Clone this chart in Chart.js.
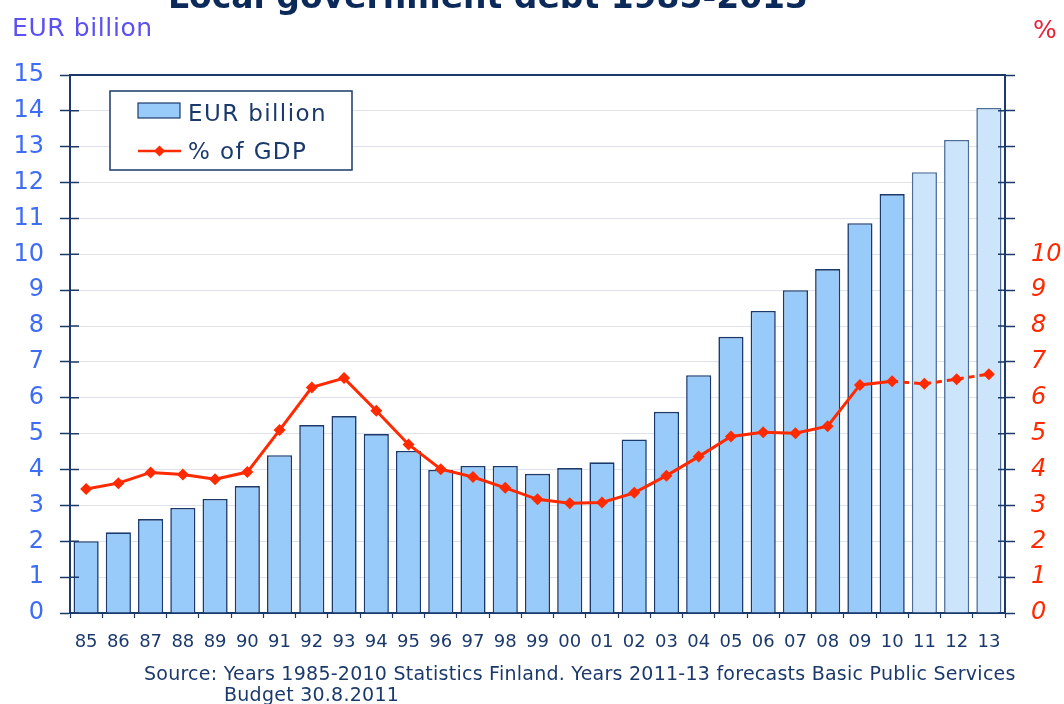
<!DOCTYPE html>
<html>
<head>
<meta charset="utf-8">
<script src="https://cdn.jsdelivr.net/npm/chart.js@4.4.0/dist/chart.umd.min.js"></script>
<style>
  html, body { margin: 0; padding: 0; background: #fff; }
  #wrap { width: 1064px; height: 704px; }
</style>
</head>
<body>
<div id="wrap"><canvas id="debtChart" width="1064" height="704"></canvas></div>
<script>
// ── Data ─────────────────────────────────────────────
const years   = ["85","86","87","88","89","90","91","92","93","94","95","96","97","98","99",
                 "00","01","02","03","04","05","06","07","08","09","10","11","12","13"];
const debtBn  = [2.00, 2.25, 2.62, 2.93, 3.18, 3.54, 4.40, 5.24, 5.49, 4.99, 4.52, 3.99, 4.10, 4.10, 3.88,
                 4.04, 4.20, 4.84, 5.61, 6.63, 7.70, 8.42, 9.00, 9.59, 10.87, 11.68, 12.29, 13.19, 14.08];
const gdpPct  = [3.46, 3.62, 3.92, 3.86, 3.73, 3.93, 5.10, 6.29, 6.55, 5.64, 4.70, 4.01, 3.79, 3.49, 3.17,
                 3.06, 3.08, 3.35, 3.83, 4.36, 4.92, 5.04, 5.01, 5.21, 6.36, 6.46, 6.39, 6.52, 6.66];
const forecastFrom = 26;          // 2011 onwards are forecasts
const leftMax  = 15;
const rightLabelMax = 10;

const titleText  = "Local government debt 1985-2013";
const sourceText = ["Source: Years 1985-2010 Statistics Finland. Years 2011-13 forecasts Basic Public Services",
                    "Budget 30.8.2011"];

// ── Colours ──────────────────────────────────────────
const NAVY     = "#1b3a6b";
const BAR      = "#99cbfa";
const BAR_FC   = "#cce5fa";
const BAR_FC_B = "#4d6d98";
const RED      = "#ff2a00";
const FONT     = "'DejaVu Sans', Verdana, sans-serif";

// ── Plugins ──────────────────────────────────────────
const frameAndText = {
    id: "frameAndText",
    afterDatasetsDraw(chart) {
        const { ctx, chartArea: a, scales } = chart;
        ctx.save();
        // top frame line
        ctx.strokeStyle = NAVY;
        ctx.lineWidth = 2;
        ctx.beginPath();
        ctx.moveTo(a.left, a.top);
        ctx.lineTo(a.right, a.top);
        ctx.stroke();
        // inner halves of the axis ticks
        ctx.lineWidth = 1.5;
        for (let v = 0; v <= leftMax; v++) {
            const yL = scales.y.getPixelForValue(v);
            const yR = scales.y2.getPixelForValue(v);
            ctx.beginPath();
            ctx.moveTo(a.left, yL); ctx.lineTo(a.left + 9, yL);
            ctx.moveTo(a.right - 7, yR); ctx.lineTo(a.right, yR);
            ctx.stroke();
        }
        ctx.restore();
    },
    afterDraw(chart) {
        const { ctx } = chart;
        ctx.save();
        // title (partly outside the picture, as in the source)
        ctx.fillStyle = "#0b2a5a";
        ctx.font = `bold 33px ${FONT}`;
        ctx.textAlign = "center";
        ctx.textBaseline = "alphabetic";
        ctx.fillText(titleText, 488, 8);

        // axis titles
        ctx.textAlign = "left";
        ctx.font = `25px ${FONT}`;
        ctx.letterSpacing = "0.6px";
        ctx.fillStyle = "#5b50f2";
        ctx.fillText("EUR billion", 12, 36);
        ctx.fillStyle = "#e8203a";
        ctx.fillText("%", 1033, 38);

        // source note
        ctx.fillStyle = NAVY;
        ctx.font = `19px ${FONT}`;
        ctx.letterSpacing = "0.25px";
        ctx.fillText(sourceText[0], 144, 680);
        ctx.fillText(sourceText[1], 224, 701);
        ctx.letterSpacing = "0px";

        // legend box
        const bx = 110, by = 91, bw = 242, bh = 79;
        ctx.fillStyle = "#fff";
        ctx.fillRect(bx, by, bw, bh);
        ctx.strokeStyle = NAVY;
        ctx.lineWidth = 1.5;
        ctx.strokeRect(bx, by, bw, bh);

        const barDs  = chart.data.datasets[1];
        const lineDs = chart.data.datasets[0];
        ctx.fillStyle = BAR;
        ctx.fillRect(138, 103, 42, 15);
        ctx.strokeStyle = NAVY;
        ctx.lineWidth = 1.2;
        ctx.strokeRect(138, 103, 42, 15);

        ctx.strokeStyle = RED;
        ctx.lineWidth = 2.5;
        ctx.beginPath();
        ctx.moveTo(138, 151); ctx.lineTo(181, 151);
        ctx.stroke();
        ctx.fillStyle = RED;
        ctx.beginPath();
        ctx.moveTo(159.5, 145.5); ctx.lineTo(165, 151); ctx.lineTo(159.5, 156.5); ctx.lineTo(154, 151);
        ctx.closePath();
        ctx.fill();

        ctx.fillStyle = NAVY;
        ctx.font = `23px ${FONT}`;
        ctx.letterSpacing = "1.4px";
        ctx.fillText(barDs.label, 188, 121);
        ctx.fillText(lineDs.label, 188, 159);
        ctx.restore();
    }
};

// ── Chart ────────────────────────────────────────────
const ctx = document.getElementById("debtChart").getContext("2d");

new Chart(ctx, {
    type: "bar",
    data: {
        labels: years,
        datasets: [
            {
                type: "line",
                label: "% of GDP",
                data: gdpPct,
                yAxisID: "y2",
                borderColor: RED,
                backgroundColor: RED,
                borderWidth: 3,
                pointStyle: "rectRot",
                pointRadius: 6,
                pointBorderWidth: 0,
                pointBackgroundColor: RED,
                tension: 0,
                segment: {
                    borderDash: c => c.p0DataIndex >= forecastFrom - 1 ? [6, 5] : undefined,
                },
                order: 0,
            },
            {
                label: "EUR billion",
                data: debtBn,
                yAxisID: "y",
                backgroundColor: debtBn.map((_, i) => i >= forecastFrom ? BAR_FC : BAR),
                borderColor: debtBn.map((_, i) => i >= forecastFrom ? BAR_FC_B : NAVY),
                borderWidth: 1.6,
                barPercentage: 0.78,
                categoryPercentage: 1,
                order: 1,
            },
        ],
    },
    options: {
        responsive: false,
        animation: false,
        layout: { padding: { top: 75, left: 0, right: 0, bottom: 0 } },
        plugins: {
            legend: { display: false },
            title: { display: false },
            tooltip: { enabled: false },
        },
        scales: {
            x: {
                afterFit: s => { s.height = 91; },
                grid: { offset: true, drawOnChartArea: false, tickLength: 5, tickColor: NAVY, tickWidth: 1.2 },
                border: { color: NAVY, width: 2 },
                ticks: { color: NAVY, font: { family: FONT, size: 18 }, padding: 14, maxRotation: 0, autoSkip: false },
            },
            y: {
                position: "left",
                min: 0, max: leftMax,
                afterFit: s => { s.width = 70; },
                grid: { color: "#dfe2eb", lineWidth: 1, tickLength: 10, tickColor: NAVY, tickWidth: 1.5 },
                border: { color: NAVY, width: 2 },
                ticks: { stepSize: 1, color: "#3d6cf5", font: { family: FONT, size: 24 }, padding: 16 },
            },
            y2: {
                position: "right",
                min: 0, max: leftMax,
                afterFit: s => { s.width = 59; },
                grid: { drawOnChartArea: false, tickLength: 10, tickColor: NAVY, tickWidth: 1.5 },
                border: { color: NAVY, width: 2 },
                ticks: {
                    stepSize: 1,
                    color: RED,
                    font: { family: FONT, size: 24, style: "italic" },
                    padding: 16,
                    callback: v => v <= rightLabelMax ? v : "",
                },
            },
        },
    },
    plugins: [frameAndText],
});
</script>
</body>
</html>
